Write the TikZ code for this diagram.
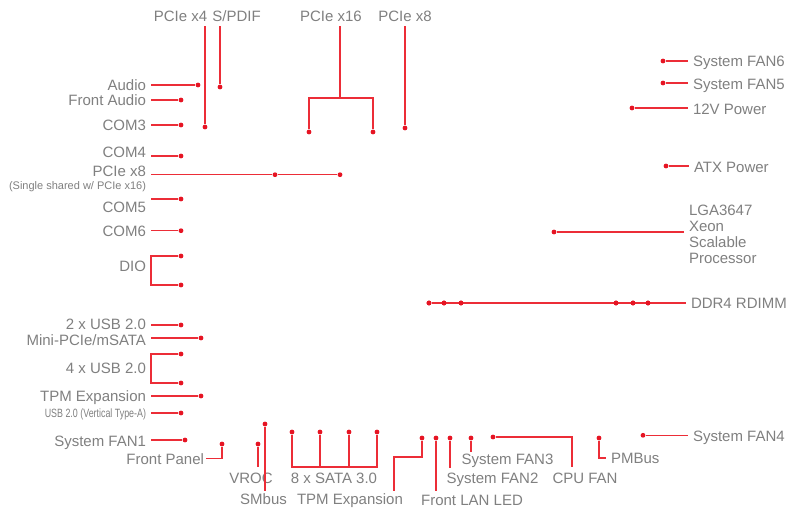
\documentclass[tikz,border=0pt]{standalone}
\usepackage{fontspec}
\setmainfont{Liberation Sans}
\usetikzlibrary{calc}
\definecolor{txtgray}{RGB}{128,128,128}
\definecolor{wirered}{RGB}{236,45,55}
\definecolor{dotred}{RGB}{230,20,35}
\begin{document}
\begin{tikzpicture}[x=1pt,y=-1pt,
  lbl/.style={font=\fontsize{15}{16}\selectfont, text=txtgray, inner sep=0pt, outer sep=5pt, text height=11pt, text depth=0pt},
  smalllbl/.style={lbl, font=\fontsize{11}{12}\selectfont, text height=8pt},
  multilbl/.style={font=\fontsize{15}{16}\selectfont, text=txtgray, inner sep=0pt, outer sep=5pt, align=left},
  wire/.style={draw=wirered, line width=1.2pt},
  dot/.style={circle, fill=dotred, inner sep=0pt, minimum size=4.8pt}]
\path[fill=white, use as bounding box] (0,0) rectangle (787,513);

% ---------- top labels ----------
\node[lbl] (p4) at (180.5,16) {PCIe x4};
\node[lbl] (sp) at (236.5,16) {S/PDIF};
\node[lbl] (p16) at (331,16) {PCIe x16};
\node[lbl] (p8t) at (405,16) {PCIe x8};
\node[dot] (dP4) at (205,127) {};
\node[dot] (dSp) at (220,87) {};
\coordinate (j16) at (340,98);
\node[dot] (d16a) at (309,132) {};
\node[dot] (d16b) at (373,132) {};
\node[dot] (dP8t) at (405,128) {};
\draw[wire] (dP4 |- p4.south) -- (dP4);
\draw[wire] (dSp |- sp.south) -- (dSp);
\draw[wire] (j16 |- p16.south) -- (j16);
\draw[wire] (d16a) |- (j16) -| (d16b);
\draw[wire] (dP8t |- p8t.south) -- (dP8t);

% ---------- left labels ----------
\node[lbl, anchor=east] (aud) at (151,85.3) {Audio};
\node[lbl, anchor=east] (fa) at (151,100.5) {Front Audio};
\node[lbl, anchor=east] (c3) at (151,125) {COM3};
\node[lbl, anchor=east] (c4) at (151,152.5) {COM4};
\node[lbl, anchor=east] (p8l) at (151,170.7) {PCIe x8};
\node[smalllbl, anchor=east] (shr) at (151,185.5) {(Single shared w/ PCIe x16)};
\node[lbl, anchor=east] (c5) at (151,207.5) {COM5};
\node[lbl, anchor=east] (c6) at (151,231) {COM6};
\node[lbl, anchor=east] (dio) at (151,266) {DIO};
\node[lbl, anchor=east] (u2) at (151,324) {2 x USB 2.0};
\node[lbl, anchor=east] (mp) at (151,340) {Mini-PCIe/mSATA};
\node[lbl, anchor=east] (u4) at (151,368) {4 x USB 2.0};
\node[lbl, anchor=east] (tpm1) at (151,396) {TPM Expansion};
\node[smalllbl, anchor=east, font=\fontsize{12}{13}\selectfont] (uv) at (151,413) {\scalebox{0.74}[1]{USB 2.0 (Vertical Type-A)}};
\node[lbl, anchor=east] (sf1) at (151,441) {System FAN1};

\node[dot] (dAud) at (198,85) {};
\node[dot] (dFa) at (181,100) {};
\node[dot] (dC3) at (181,125) {};
\node[dot] (dC4) at (181,156) {};
\node[dot] (dP8a) at (275,174.7) {};
\node[dot] (dP8b) at (340,174.7) {};
\node[dot] (dC5) at (181,199) {};
\node[dot] (dC6) at (181,230.7) {};
\node[dot] (dDio1) at (181,256) {};
\node[dot] (dDio2) at (181,285) {};
\node[dot] (dU2) at (181,325) {};
\node[dot] (dMp) at (201,338) {};
\node[dot] (dU4a) at (181,354) {};
\node[dot] (dU4b) at (181,383) {};
\node[dot] (dTpm1) at (201,396) {};
\node[dot] (dUv) at (181,413) {};
\node[dot] (dSf1) at (185,440) {};

\draw[wire] (dAud -| aud.east) -- (dAud);
\draw[wire] (dFa -| fa.east) -- (dFa);
\draw[wire] (dC3 -| c3.east) -- (dC3);
\draw[wire] (dC4 -| c4.east) -- (dC4);
\draw[wire] (dP8b -| p8l.east) -- (dP8a) -- (dP8b);
\draw[wire] (dC5 -| c5.east) -- (dC5);
\draw[wire] (dC6 -| c6.east) -- (dC6);
\draw[wire] (dDio1) -- (dDio1 -| dio.east) -- (dDio2 -| dio.east) -- (dDio2);
\draw[wire] (dU2 -| u2.east) -- (dU2);
\draw[wire] (dMp -| mp.east) -- (dMp);
\draw[wire] (dU4a) -- (dU4a -| u4.east) -- (dU4b -| u4.east) -- (dU4b);
\draw[wire] (dTpm1 -| tpm1.east) -- (dTpm1);
\draw[wire] (dUv -| uv.east) -- (dUv);
\draw[wire] (dSf1 -| sf1.east) -- (dSf1);

% ---------- bottom labels ----------
\node[lbl, anchor=east, outer sep=2pt] (fp) at (206,458.7) {Front Panel};
\node[lbl] (vroc) at (251,477.5) {VROC};
\node[lbl, outer sep=3pt] (smb) at (263.5,499) {SMbus};
\node[lbl] (sata) at (334,477.5) {8 x SATA 3.0};
\node[lbl, outer sep=3pt] (tpm2) at (350,499) {TPM Expansion};
\node[lbl, outer sep=4pt] (lan) at (472,500) {Front LAN LED};
\node[lbl] (f2) at (492.5,478) {System FAN2};
\node[lbl, outer sep=2pt] (f3) at (507.5,459) {System FAN3};
\node[lbl] (cpu) at (585,478) {CPU FAN};
\node[lbl, anchor=west] (pm) at (606,458) {PMBus};
\node[lbl, anchor=west] (f4) at (688,436) {System FAN4};

\node[dot] (dFp) at (222,444) {};
\node[dot] (dVr) at (258,444) {};
\node[dot] (dSm) at (265,424) {};
\node[dot] (s1) at (292,432) {};
\node[dot] (s2) at (320,432) {};
\node[dot] (s3) at (349,432) {};
\node[dot] (s4) at (377,432) {};
\node[dot] (dT2) at (422,438) {};
\coordinate (tk) at (394,457);
\node[dot] (dL) at (436,438) {};
\node[dot] (dF2) at (450,438) {};
\node[dot] (dF3) at (471,438) {};
\node[dot] (dCpu) at (493,437) {};
\coordinate (ck) at (572,467);
\node[dot] (dPm) at (599,438) {};
\node[dot] (dF4) at (643,435.3) {};

\draw[wire] (fp.east) -| (dFp);
\draw[wire] (dVr) -- (dVr |- vroc.north);
\draw[wire] (dSm) -- (dSm |- smb.north);
\draw[wire] (s1) |- (sata.north) -| (s4);
\draw[wire] (s2) -- (s2 |- sata.north);
\draw[wire] (s3) -- (s3 |- sata.north);
\draw[wire] (dT2) |- (tk) -- (tk |- tpm2.north);
\draw[wire] (dL) -- (dL |- lan.north);
\draw[wire] (dF2) -- (dF2 |- f2.north);
\draw[wire] (dF3) -- (dF3 |- f3.north);
\draw[wire] (dCpu) -| (ck);
\draw[wire] (dPm) |- (pm.west);
\draw[wire] (dF4) -- (dF4 -| f4.west);

% ---------- right labels ----------
\node[lbl, anchor=west] (f6) at (688,61) {System FAN6};
\node[lbl, anchor=west] (f5) at (688,84) {System FAN5};
\node[lbl, anchor=west] (v12) at (688,109) {12V Power};
\node[lbl, anchor=west] (atx) at (689,167) {ATX Power};
\node[multilbl, anchor=base west] (lga) at (684,263.4) {LGA3647\\Xeon\\Scalable\\Processor};
\node[lbl, anchor=west] (ddr) at (686,303) {DDR4 RDIMM};

\node[dot] (dF6) at (663,61) {};
\node[dot] (dF5) at (663,83) {};
\node[dot] (dV12) at (632,108) {};
\node[dot] (dAtx) at (666,166) {};
\node[dot] (dLga) at (554,232) {};
\node[dot] (dd1) at (429,303) {};
\node[dot] (dd2) at (444,303) {};
\node[dot] (dd3) at (461,303) {};
\node[dot] (dd4) at (616,303) {};
\node[dot] (dd5) at (633,303) {};
\node[dot] (dd6) at (648,303) {};

\draw[wire] (dF6) -- (dF6 -| f6.west);
\draw[wire] (dF5) -- (dF5 -| f5.west);
\draw[wire] (dV12) -- (dV12 -| v12.west);
\draw[wire] (dAtx) -- (dAtx -| atx.west);
\draw[wire] (dLga) -- (dLga -| lga.west);
\draw[wire] (dd1) -- (dd1 -| ddr.west);
\foreach \d in {dd1,dd2,dd3,dd4,dd5,dd6} \node[dot] at (\d) {};
\end{tikzpicture}
\end{document}
